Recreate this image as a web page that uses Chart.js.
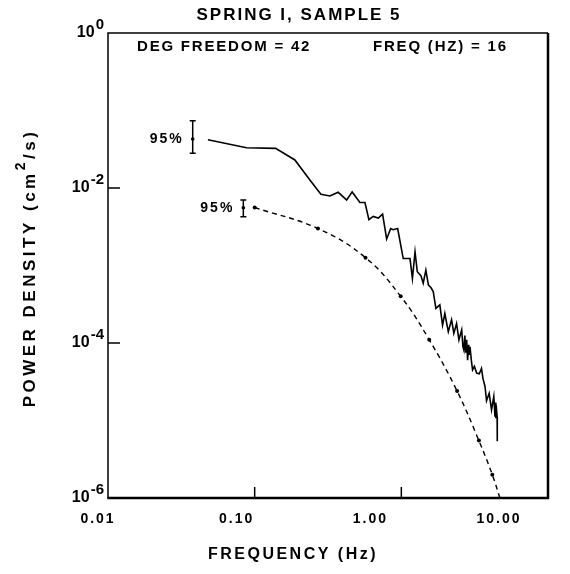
<!DOCTYPE html>
<html>
<head>
<meta charset="utf-8">
<script src="https://cdn.jsdelivr.net/npm/chart.js@4"></script>
<style>
  body { margin: 0; background: #fff; }
  canvas { display: block; }
</style>
</head>
<body>
<canvas id="spectrum" width="570" height="574"></canvas>
<script>
// measured spectrum (solid line)
const solidFreq = [0.048, 0.088, 0.139, 0.188, 0.238, 0.283, 0.326, 0.371, 0.424, 0.462,
    0.522, 0.565, 0.601, 0.643, 0.696, 0.745, 0.794, 0.846, 0.88, 0.944,
    1.03, 1.146, 1.19, 1.24, 1.285, 1.36, 1.41, 1.47, 1.53, 1.59,
    1.65, 1.72, 1.83, 1.91, 1.98, 2.09, 2.2, 2.28, 2.38, 2.47,
    2.58, 2.63, 2.67, 2.71, 2.75, 2.79, 2.83, 2.88, 2.91, 2.94,
    3.0, 3.06, 3.15, 3.26, 3.4, 3.52, 3.6, 3.72, 3.81, 3.97,
    4.12, 4.27, 4.35, 4.38, 4.41, 4.47, 4.5, 4.51];
const solidPower = [0.042, 0.033, 0.0325, 0.023, 0.0127, 0.0083, 0.0079, 0.0088, 0.0070, 0.0089,
    0.0065, 0.0065, 0.0039, 0.0043, 0.0041, 0.0046, 0.0022, 0.0030, 0.0029, 0.0030,
    0.00123, 0.00123, 0.00068, 0.0015, 0.00083, 0.00074, 0.00059, 0.00087, 0.00056, 0.00052,
    0.00046, 0.00028, 0.00031, 0.00017, 0.00024, 0.00014, 0.0002, 0.000133, 0.000178, 0.00011,
    0.000148, 0.00009, 0.000081, 0.000125, 0.000075, 0.00011, 0.00006, 0.000095, 0.00007, 0.000089,
    0.00006, 0.000045, 0.00005, 0.000041, 0.00004, 0.000047, 0.000035, 0.0000275, 0.000018, 0.0000224,
    0.0000137, 0.0000204, 0.0000112, 0.000017, 0.0000107, 0.000013, 0.0000112, 0.0000054];

// model spectrum (dashed line with dots)
const modelFreq = [0.1, 0.27, 0.57, 0.99, 1.55, 2.4, 3.38, 4.17, 4.7];
const modelPower = [0.0056, 0.0030, 0.00126, 0.0004, 0.00011, 0.000024, 0.0000055, 0.000002, 0.000001];
const modelDots = [true, true, true, true, true, true, true, true, false];

// 95% confidence bars
const barFreq = [0.0378, 0.0837];
const barLow = [0.028, 0.00427];
const barMid = [0.0428, 0.00557];
const barHigh = [0.0738, 0.0070];

// axes
const xTickVals = [0.01, 0.1, 1, 10];
const xTickLabels = ['0.01', '0.10', '1.00', '10.00'];
const yTickExps = [0, -2, -4, -6];

const xLabelShift = [-10, -18, -31, -49];
const FONT = '"Liberation Sans", Arial, sans-serif';

const overlay = {
    id: 'overlay',
    afterDraw(chart) {
        const { ctx, chartArea: a, scales: { x, y } } = chart;
        ctx.save();
        ctx.strokeStyle = '#000';
        ctx.fillStyle = '#000';
        ctx.lineCap = 'butt';

        // frame
        ctx.lineWidth = 1.5;
        ctx.beginPath();
        ctx.moveTo(a.left, a.bottom); ctx.lineTo(a.left, a.top); ctx.lineTo(a.right, a.top);
        ctx.stroke();
        ctx.lineWidth = 2.5;
        ctx.beginPath();
        ctx.moveTo(a.right, a.top); ctx.lineTo(a.right, a.bottom); ctx.lineTo(a.left - 0.75, a.bottom);
        ctx.stroke();

        // inner ticks
        ctx.lineWidth = 1.5;
        xTickVals.slice(1, -1).forEach(v => {
            const px = x.getPixelForValue(v);
            ctx.beginPath(); ctx.moveTo(px, a.bottom); ctx.lineTo(px, a.bottom - 11); ctx.stroke();
        });
        yTickExps.slice(1, -1).forEach(e => {
            const py = y.getPixelForValue(Math.pow(10, e));
            ctx.beginPath(); ctx.moveTo(a.left, py); ctx.lineTo(a.left + 12, py); ctx.stroke();
        });

        // x tick labels
        ctx.font = 'bold 14px ' + FONT;
        ctx.letterSpacing = '2px';
        ctx.textAlign = 'center';
        ctx.textBaseline = 'middle';
        xTickVals.forEach((v, i) => {
            ctx.fillText(xTickLabels[i], x.getPixelForValue(v) + xLabelShift[i], a.bottom + 21);
        });

        // y tick labels 10^n
        ctx.letterSpacing = '0px';
        ctx.textAlign = 'right';
        yTickExps.forEach(e => {
            const py = y.getPixelForValue(Math.pow(10, e));
            const sup = e === 0 ? '0' : '-' + (-e);
            ctx.font = 'bold 15px ' + FONT;
            const w = ctx.measureText(sup).width;
            ctx.fillText(sup, a.left - 4, py - 8);
            ctx.font = 'bold 16px ' + FONT;
            ctx.fillText('10', a.left - 5 - w, py);
        });

        // title and notes
        ctx.textAlign = 'center';
        ctx.font = 'bold 17px ' + FONT;
        ctx.letterSpacing = '2px';
        ctx.fillText('SPRING I, SAMPLE 5', 299, 15);
        ctx.textAlign = 'left';
        ctx.font = 'bold 15px ' + FONT;
        ctx.letterSpacing = '1.8px';
        ctx.fillText('DEG FREEDOM = 42', 137, 47);
        ctx.fillText('FREQ (HZ) = 16', 373, 47);

        // x title
        ctx.textAlign = 'center';
        ctx.font = 'bold 16px ' + FONT;
        ctx.letterSpacing = '2.5px';
        ctx.fillText('FREQUENCY (Hz)', 293, 555);

        // y title with superscript
        ctx.save();
        ctx.translate(30, 268);
        ctx.rotate(-Math.PI / 2);
        ctx.textAlign = 'left';
        ctx.letterSpacing = '3.5px';
        ctx.font = 'bold 17px ' + FONT;
        const p1 = 'POWER DENSITY (cm', p3 = '/s)';
        const w1 = ctx.measureText(p1).width, w3 = ctx.measureText(p3).width;
        ctx.font = 'bold 14px ' + FONT;
        const w2 = ctx.measureText('2').width;
        let sx = -(w1 + w2 + w3) / 2;
        ctx.font = 'bold 17px ' + FONT;
        ctx.fillText(p1, sx, 0);
        ctx.font = 'bold 14px ' + FONT;
        ctx.fillText('2', sx + w1, -9);
        ctx.font = 'bold 17px ' + FONT;
        ctx.fillText(p3, sx + w1 + w2, 0);
        ctx.restore();

        // 95% bars
        ctx.lineWidth = 1.5;
        barFreq.forEach((f, i) => {
            const px = x.getPixelForValue(f);
            const top = y.getPixelForValue(barHigh[i]);
            const bot = y.getPixelForValue(barLow[i]);
            const mid = y.getPixelForValue(barMid[i]);
            ctx.beginPath();
            ctx.moveTo(px, top); ctx.lineTo(px, bot);
            ctx.moveTo(px - 3, top); ctx.lineTo(px + 3, top);
            ctx.moveTo(px - 3, bot); ctx.lineTo(px + 3, bot);
            ctx.stroke();
            ctx.beginPath(); ctx.arc(px, mid, 1.8, 0, Math.PI * 2); ctx.fill();
            ctx.textAlign = 'right';
            ctx.font = 'bold 14px ' + FONT;
            ctx.letterSpacing = '2px';
            ctx.fillText('95%', px - 9, mid);
        });
        ctx.restore();
    }
};

new Chart(document.getElementById('spectrum'), {
    type: 'line',
    data: {
        datasets: [
            {
                data: solidFreq.map((f, i) => ({ x: f, y: solidPower[i] })),
                borderColor: '#000',
                borderWidth: 1.6,
                pointRadius: 0,
                tension: 0
            },
            {
                data: modelFreq.map((f, i) => ({ x: f, y: modelPower[i] })),
                borderColor: '#000',
                backgroundColor: '#000',
                borderWidth: 1.4,
                borderDash: [5, 4],
                pointRadius: modelDots.map(d => d ? 2 : 0),
                pointBorderWidth: 0,
                tension: 0.4
            }
        ]
    },
    options: {
        responsive: false,
        animation: false,
        layout: { padding: { left: 108, right: 22, top: 33, bottom: 76 } },
        plugins: { legend: { display: false }, tooltip: { enabled: false } },
        scales: {
            x: { type: 'logarithmic', min: 0.01, max: 10, display: false },
            y: { type: 'logarithmic', min: 1e-6, max: 1, display: false }
        }
    },
    plugins: [overlay]
});
</script>
</body>
</html>
